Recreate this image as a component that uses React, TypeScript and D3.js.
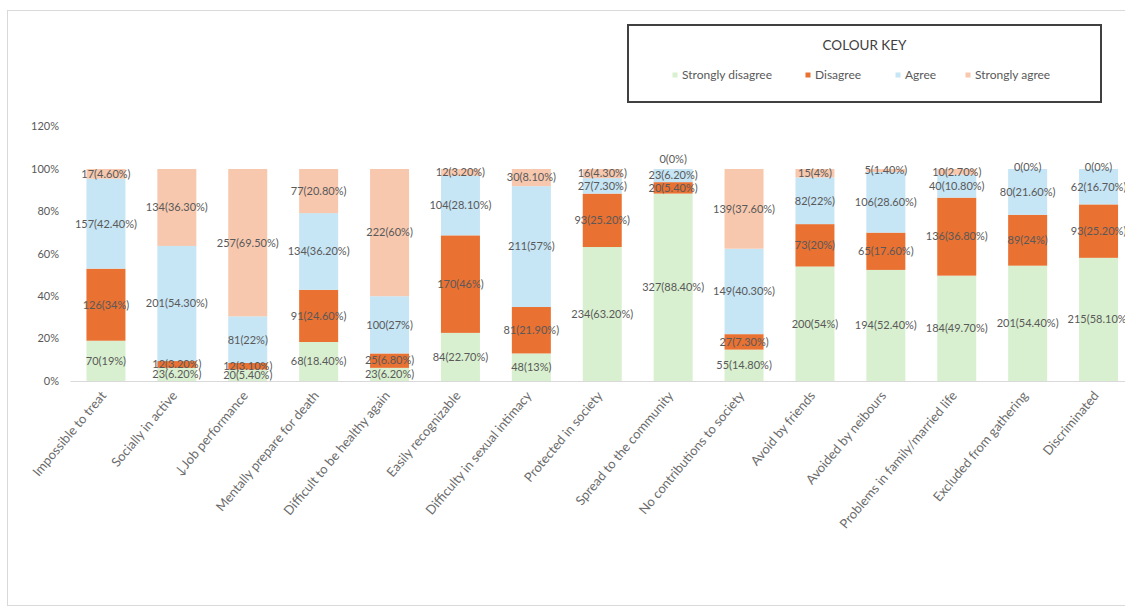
import React from "react";
import * as d3 from "d3";

const categories = [
  "Impossible to treat",
  "Socially in active",
  "↓Job performance",
  "Mentally prepare for death",
  "Difficult to be healthy again",
  "Easily recognizable",
  "Difficulty in sexual intimacy",
  "Protected in society",
  "Spread to the community",
  "No contributions to society",
  "Avoid by friends",
  "Avoided by neibours",
  "Problems in family/married life",
  "Excluded from gathering",
  "Discriminated",
];

const seriesNames = ["Strongly disagree", "Disagree", "Agree", "Strongly agree"];

const stronglyDisagreeCount = [70, 23, 20, 68, 23, 84, 48, 234, 327, 55, 200, 194, 184, 201, 215];
const stronglyDisagreePct = [19, 6.2, 5.4, 18.4, 6.2, 22.7, 13, 63.2, 88.4, 14.8, 54, 52.4, 49.7, 54.4, 58.1];
const disagreeCount = [126, 12, 12, 91, 25, 170, 81, 93, 20, 27, 73, 65, 136, 89, 93];
const disagreePct = [34, 3.2, 3.1, 24.6, 6.8, 46, 21.9, 25.2, 5.4, 7.3, 20, 17.6, 36.8, 24, 25.2];
const agreeCount = [157, 201, 81, 134, 100, 104, 211, 27, 23, 149, 82, 106, 40, 80, 62];
const agreePct = [42.4, 54.3, 22, 36.2, 27, 28.1, 57, 7.3, 6.2, 40.3, 22, 28.6, 10.8, 21.6, 16.7];
const stronglyAgreeCount = [17, 134, 257, 77, 222, 12, 30, 16, 0, 139, 15, 5, 10, 0, 0];
const stronglyAgreePct = [4.6, 36.3, 69.5, 20.8, 60, 3.2, 8.1, 4.3, 0, 37.6, 4, 1.4, 2.7, 0, 0];

const yTicks = [0, 20, 40, 60, 80, 100, 120];

const colors = ["#d8f0cf", "#e97132", "#c6e5f5", "#f7c8ae"];

const counts = [stronglyDisagreeCount, disagreeCount, agreeCount, stronglyAgreeCount];
const pcts = [stronglyDisagreePct, disagreePct, agreePct, stronglyAgreePct];

const fmtPct = (v: number) => {
  if (v === 0) return "0%";
  if (Number.isInteger(v)) return `${v}%`;
  return `${v.toFixed(2)}%`;
};

export default function App() {
  const W = 1125;
  const H = 609;
  const x = d3
    .scaleBand<string>()
    .domain(categories)
    .range([70.5, 1134])
    .paddingInner(0.45)
    .paddingOuter(0.225);
  const y = d3.scaleLinear().domain([0, 120]).range([381, 126.6]);

  const rows = categories.map((c, i) => {
    const r: any = { cat: c };
    seriesNames.forEach((s, k) => (r[s] = pcts[k][i]));
    return r;
  });
  const stacked = d3.stack<any>().keys(seriesNames)(rows);

  const labelFont = "Lato, 'Open Sans', sans-serif";
  const textColor = "#595959";

  const labels: { x: number; y: number; text: string }[] = [];
  categories.forEach((c, i) => {
    const items = seriesNames.map((s, k) => {
      const seg = stacked[k][i];
      return {
        x: (x(c) as number) + x.bandwidth() / 2,
        y: (y(seg[0]) + y(seg[1])) / 2,
        text: `${counts[k][i]}(${fmtPct(pcts[k][i])})`,
        zero: counts[k][i] === 0,
      };
    });
    for (let k = items.length - 1; k >= 0; k--) {
      const it = items[k];
      if (it.zero && k > 0) {
        const below = items[k - 1];
        if (!below.zero && below.y - it.y < 11) it.y = below.y - 16;
        else it.y = it.y - 2;
      }
    }
    items.forEach((it) => labels.push(it));
  });

  const legendItems = [
    { name: seriesNames[0], mx: 675, tx: 682 },
    { name: seriesNames[1], mx: 808, tx: 815 },
    { name: seriesNames[2], mx: 898, tx: 905 },
    { name: seriesNames[3], mx: 968, tx: 975 },
  ];

  return (
    <div style={{ position: "absolute", left: 0, top: 0, width: W, height: H, overflow: "hidden", background: "#fff" }}>
      <svg width={W} height={H} style={{ display: "block", fontFamily: labelFont }}>
        <rect x={0} y={0} width={W} height={H} fill="#fff" />
        <rect x={7.5} y={10.5} width={1130} height={595} fill="none" stroke="#d9d9d9" strokeWidth={1} />

        {yTicks.map((t) => (
          <text key={t} x={59} y={y(t)} dy="0.35em" textAnchor="end" fontSize={11} fill={textColor}>
            {t}%
          </text>
        ))}

        {stacked.map((layer, k) => (
          <g key={layer.key} fill={colors[k]}>
            {layer.map((seg, i) => (
              <rect
                key={i}
                x={x(categories[i])}
                y={y(seg[1])}
                width={x.bandwidth()}
                height={Math.max(0, y(seg[0]) - y(seg[1]))}
              />
            ))}
          </g>
        ))}

        <line x1={70.5} x2={1134} y1={381.5} y2={381.5} stroke="#d9d9d9" strokeWidth={1} />

        {labels.map((l, i) => (
          <text key={i} x={l.x} y={l.y} dy="0.35em" textAnchor="middle" fontSize={11} fill={textColor}>
            {l.text}
          </text>
        ))}

        {categories.map((c) => {
          const cx = (x(c) as number) + x.bandwidth() / 2 + 1;
          const cy = 396;
          return (
            <text
              key={c}
              x={cx}
              y={cy}
              textAnchor="end"
              fontSize={13}
              fill="#6b6b6b"
              transform={`rotate(-50, ${cx}, ${cy})`}
            >
              {c}
            </text>
          );
        })}

        <rect x={628} y={25} width={473} height={77} fill="#fff" stroke="#404040" strokeWidth={2} />
        <text x={864.5} y={50} textAnchor="middle" fontSize={13.5} fill="#404040">
          COLOUR KEY
        </text>
        {legendItems.map((it, k) => (
          <g key={it.name}>
            <rect x={it.mx - 2.5} y={72.5} width={5} height={5} fill={colors[k]} />
            <text x={it.tx} y={75} dy="0.35em" fontSize={12} fill={textColor}>
              {it.name}
            </text>
          </g>
        ))}
      </svg>
    </div>
  );
}
